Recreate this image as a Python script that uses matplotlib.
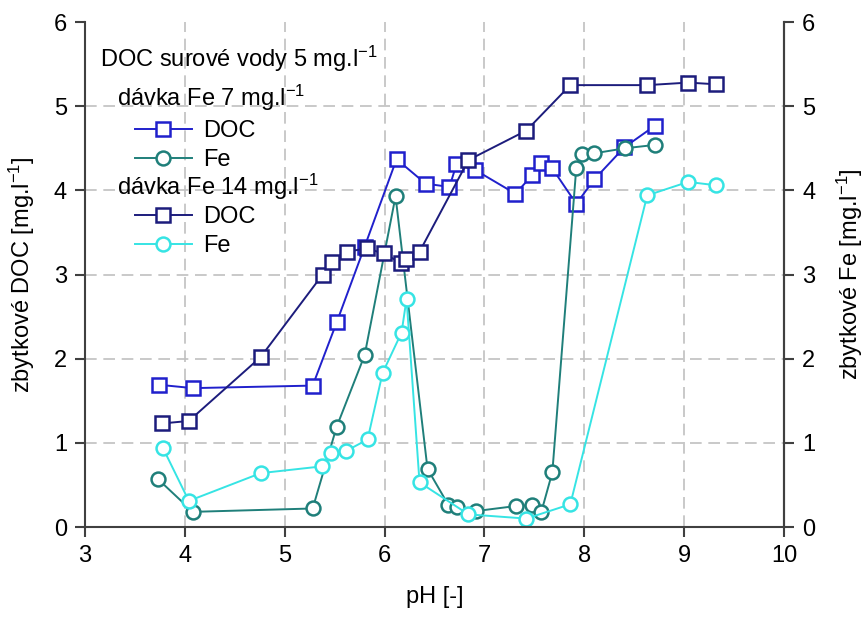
import matplotlib
matplotlib.use('Agg')
import matplotlib.pyplot as plt

plt.rcParams['font.family'] = ['Liberation Sans', 'DejaVu Sans']
plt.rcParams['mathtext.fontset'] = 'custom'
plt.rcParams['mathtext.rm'] = 'Liberation Sans'
plt.rcParams['mathtext.it'] = 'Liberation Sans'

# davka Fe 7 mg/l
ph_doc7 = [3.74, 4.08, 5.28, 5.52, 5.80, 6.12, 6.41, 6.65, 6.72, 6.91, 7.31, 7.48, 7.57, 7.68, 7.92, 8.10, 8.40, 8.71]
doc7 = [1.69, 1.65, 1.68, 2.43, 3.33, 4.37, 4.08, 4.04, 4.31, 4.24, 3.96, 4.18, 4.32, 4.26, 3.84, 4.13, 4.51, 4.77]
ph_fe7 = [3.73, 4.08, 5.28, 5.52, 5.80, 6.11, 6.43, 6.64, 6.73, 6.92, 7.32, 7.48, 7.57, 7.68, 7.92, 7.98, 8.10, 8.41, 8.71]
fe7 = [0.57, 0.18, 0.22, 1.19, 2.04, 3.93, 0.69, 0.26, 0.24, 0.19, 0.25, 0.26, 0.18, 0.65, 4.27, 4.43, 4.44, 4.50, 4.54]

# davka Fe 14 mg/l
ph_doc14 = [3.77, 4.04, 4.76, 5.38, 5.47, 5.62, 5.82, 5.99, 6.16, 6.21, 6.35, 6.84, 7.42, 7.86, 8.63, 9.04, 9.32]
doc14 = [1.23, 1.26, 2.02, 3.00, 3.15, 3.27, 3.31, 3.25, 3.14, 3.19, 3.27, 4.36, 4.71, 5.25, 5.25, 5.28, 5.26]
ph_fe14 = [3.78, 4.04, 4.76, 5.37, 5.46, 5.61, 5.83, 5.98, 6.17, 6.22, 6.35, 6.84, 7.42, 7.86, 8.63, 9.04, 9.32]
fe14 = [0.94, 0.31, 0.64, 0.72, 0.88, 0.90, 1.04, 1.83, 2.31, 2.71, 0.53, 0.15, 0.10, 0.27, 3.94, 4.10, 4.06]

c_doc7 = '#2020cc'
c_doc14 = '#1c1c7c'
c_fe7 = '#1f7f7a'
c_fe14 = '#36e4e4'
axc = '#404040'

fig = plt.figure(figsize=(8.64, 6.17), dpi=100)
ax = fig.add_axes([85 / 864, 1 - 527 / 617, 699 / 864, 505 / 617])

mk = dict(markersize=10, markerfacecolor='white', markeredgewidth=1.8, linewidth=1.4)
l_doc7, = ax.plot(ph_doc7, doc7, marker='s', color=c_doc7, **mk)
l_fe7, = ax.plot(ph_fe7, fe7, marker='o', color=c_fe7, **mk)
l_doc14, = ax.plot(ph_doc14, doc14, marker='s', color=c_doc14, **mk)
l_fe14, = ax.plot(ph_fe14, fe14, marker='o', color=c_fe14, **mk)

ax.set_xlim(3, 10)
ax.set_ylim(0, 6)
ax.set_xticks(range(3, 11))
ax.set_yticks(range(0, 7))
ax.grid(True, color='#c0c0c0', linestyle=(0, (7, 4)), linewidth=1.2)
ax.set_axisbelow(True)
ax.yaxis.get_gridlines()[-1].set_visible(False)

ax.spines['top'].set_visible(False)
for s in ['left', 'bottom', 'right']:
    ax.spines[s].set_color(axc)
    ax.spines[s].set_linewidth(1.5)
ax.tick_params(direction='out', length=7, width=1.5, color=axc, labelsize=17, pad=6)

ax2 = ax.twinx()
ax2.set_ylim(0, 6)
ax2.set_yticks(range(0, 7))
for s in ['top', 'left', 'bottom']:
    ax2.spines[s].set_visible(False)
ax2.spines['right'].set_color(axc)
ax2.spines['right'].set_linewidth(1.5)
ax2.tick_params(direction='out', length=7, width=1.5, color=axc, labelsize=17, pad=6)

ax.set_xlabel('pH [-]', fontsize=17, labelpad=14)
ax.set_ylabel(r'zbytkové DOC [mg.l$^{-1}$]', fontsize=17, labelpad=12)
ax2.set_ylabel(r'zbytkové Fe [mg.l$^{-1}$]', fontsize=17, labelpad=14)

def fx(px):
    return (px - 85) / 699

def fy(py):
    return (527 - py) / 505

tkw = dict(fontsize=17, va='center', ha='left', transform=ax.transAxes)
ax.text(fx(100), fy(59), r'DOC surové vody 5 mg.l$^{-1}$', **tkw)
ax.text(fx(117), fy(98), r'dávka Fe 7 mg.l$^{-1}$', **tkw)
ax.text(fx(117), fy(187), r'dávka Fe 14 mg.l$^{-1}$', **tkw)

lkw = dict(loc='upper left', frameon=False, fontsize=17, borderpad=0, borderaxespad=0,
           handlelength=2.4, handletextpad=0.5, labelspacing=0.3)
leg1 = ax.legend([l_doc7, l_fe7], ['DOC', 'Fe'], bbox_to_anchor=(fx(135), fy(120)), **lkw)
ax.add_artist(leg1)
leg2 = ax.legend([l_doc14, l_fe14], ['DOC', 'Fe'], bbox_to_anchor=(fx(135), fy(206)), **lkw)

fig.savefig('out.png', dpi=100)
